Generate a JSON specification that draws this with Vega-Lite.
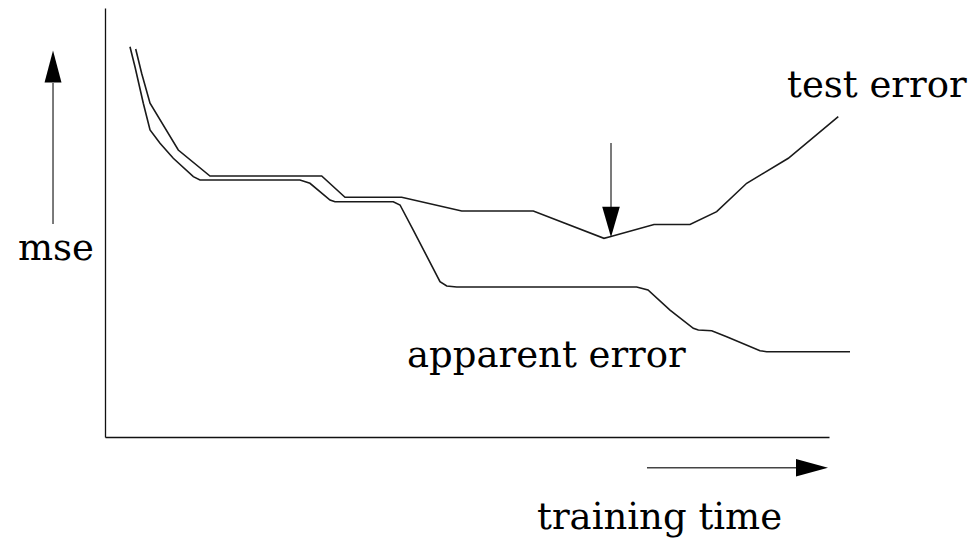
{
  "$schema": "https://vega.github.io/schema/vega-lite/v6.json",
  "width": 724,
  "height": 429,
  "autosize": "none",
  "padding": {"left": 105, "top": 8, "right": 151, "bottom": 108},
  "background": "white",
  "config": {
    "view": {"stroke": null},
    "axis": {"ticks": false, "labels": false, "grid": false, "title": null, "domainColor": "#111111", "domainWidth": 1.3}
  },
  "datasets": {
    "curves": [
      {"series": "test error", "t": 4.24, "mse": 90.44},
      {"series": "test error", "t": 5.06, "mse": 84.78},
      {"series": "test error", "t": 6.22, "mse": 77.79},
      {"series": "test error", "t": 10.12, "mse": 66.9},
      {"series": "test error", "t": 14.5, "mse": 60.84},
      {"series": "test error", "t": 29.93, "mse": 60.84},
      {"series": "test error", "t": 33.15, "mse": 55.87},
      {"series": "test error", "t": 40.98, "mse": 55.87},
      {"series": "test error", "t": 49.27, "mse": 52.68},
      {"series": "test error", "t": 59.16, "mse": 52.68},
      {"series": "test error", "t": 68.92, "mse": 46.32},
      {"series": "test error", "t": 69.75, "mse": 46.69},
      {"series": "test error", "t": 75.83, "mse": 49.53},
      {"series": "test error", "t": 80.8, "mse": 49.53},
      {"series": "test error", "t": 84.49, "mse": 52.52},
      {"series": "test error", "t": 88.63, "mse": 59.14},
      {"series": "test error", "t": 94.38, "mse": 64.97},
      {"series": "test error", "t": 101.28, "mse": 74.66},
      {"series": "apparent error", "t": 3.45, "mse": 90.98},
      {"series": "apparent error", "t": 4.14, "mse": 86.32},
      {"series": "apparent error", "t": 5.29, "mse": 77.79},
      {"series": "apparent error", "t": 5.76, "mse": 74.66},
      {"series": "apparent error", "t": 6.22, "mse": 71.56},
      {"series": "apparent error", "t": 7.6, "mse": 68.46},
      {"series": "apparent error", "t": 9.43, "mse": 64.97},
      {"series": "apparent error", "t": 12.2, "mse": 60.68},
      {"series": "apparent error", "t": 13.12, "mse": 59.91},
      {"series": "apparent error", "t": 26.93, "mse": 59.91},
      {"series": "apparent error", "t": 28.31, "mse": 59.14},
      {"series": "apparent error", "t": 31.08, "mse": 55.24},
      {"series": "apparent error", "t": 31.77, "mse": 54.85},
      {"series": "apparent error", "t": 39.82, "mse": 54.85},
      {"series": "apparent error", "t": 40.75, "mse": 54.08},
      {"series": "apparent error", "t": 42.58, "mse": 48.25},
      {"series": "apparent error", "t": 46.27, "mse": 36.2},
      {"series": "apparent error", "t": 47.2, "mse": 35.2},
      {"series": "apparent error", "t": 48.58, "mse": 34.97},
      {"series": "apparent error", "t": 73.43, "mse": 34.97},
      {"series": "apparent error", "t": 75.0, "mse": 34.27},
      {"series": "apparent error", "t": 78.04, "mse": 29.6},
      {"series": "apparent error", "t": 81.26, "mse": 25.34},
      {"series": "apparent error", "t": 81.95, "mse": 24.94},
      {"series": "apparent error", "t": 83.8, "mse": 24.78},
      {"series": "apparent error", "t": 85.87, "mse": 23.38},
      {"series": "apparent error", "t": 90.47, "mse": 20.12},
      {"series": "apparent error", "t": 91.39, "mse": 19.88},
      {"series": "apparent error", "t": 102.9, "mse": 19.88}
    ],
    "vshafts": [
      {"arrow": "mse", "t": -7.18, "from": 49.65, "to": 82.5},
      {"arrow": "minimum", "t": 69.89, "from": 53.6, "to": 68.53}
    ],
    "hshafts": [
      {"arrow": "training time", "mse": -7.16, "from": 74.86, "to": 95.44}
    ],
    "heads": [
      {"arrow": "mse", "t": -7.18, "mse": 86.36},
      {"arrow": "minimum", "t": 69.89, "mse": 50.12},
      {"arrow": "training time", "t": 97.65, "mse": -7.16}
    ],
    "labels": [
      {"label": "test error", "t": 94.2, "mse": 79.32},
      {"label": "apparent error", "t": 41.71, "mse": 16.39},
      {"label": "training time", "t": 59.67, "mse": -21.5},
      {"label": "mse", "t": -12.02, "mse": 41.26}
    ]
  },
  "layer": [
    {
      "data": {"name": "curves"},
      "mark": {"type": "line", "color": "#1a1a1a", "strokeWidth": 1.6, "clip": false},
      "encoding": {
        "x": {"field": "t", "type": "quantitative", "scale": {"domain": [0, 100]}, "axis": {"orient": "bottom"}},
        "y": {"field": "mse", "type": "quantitative", "scale": {"domain": [0, 100]}, "axis": {"orient": "left"}},
        "detail": {"field": "series"}
      }
    },
    {
      "data": {"name": "vshafts"},
      "mark": {"type": "rule", "color": "#222222", "strokeWidth": 1.2, "clip": false},
      "encoding": {
        "x": {"field": "t", "type": "quantitative"},
        "y": {"field": "from", "type": "quantitative"},
        "y2": {"field": "to"}
      }
    },
    {
      "data": {"name": "hshafts"},
      "mark": {"type": "rule", "color": "#444444", "strokeWidth": 1.4, "clip": false},
      "encoding": {
        "y": {"field": "mse", "type": "quantitative"},
        "x": {"field": "from", "type": "quantitative"},
        "x2": {"field": "to"}
      }
    },
    {
      "data": {"name": "heads"},
      "mark": {"type": "point", "filled": true, "color": "black", "opacity": 1, "size": 1024, "clip": false},
      "encoding": {
        "x": {"field": "t", "type": "quantitative"},
        "y": {"field": "mse", "type": "quantitative"},
        "shape": {
          "field": "arrow",
          "type": "nominal",
          "legend": null,
          "scale": {
            "domain": ["mse", "minimum", "training time"],
            "range": ["M0,-1L0.53,1L-0.53,1Z", "M0,0.95L0.55,-0.95L-0.55,-0.95Z", "M1,0L-1,0.55L-1,-0.55Z"]
          }
        }
      }
    },
    {
      "data": {"name": "labels"},
      "mark": {"type": "text", "font": "DejaVu Serif", "fontSize": 37, "align": "left", "baseline": "alphabetic", "color": "black", "clip": false},
      "encoding": {
        "x": {"field": "t", "type": "quantitative"},
        "y": {"field": "mse", "type": "quantitative"},
        "text": {"field": "label"}
      }
    }
  ]
}
